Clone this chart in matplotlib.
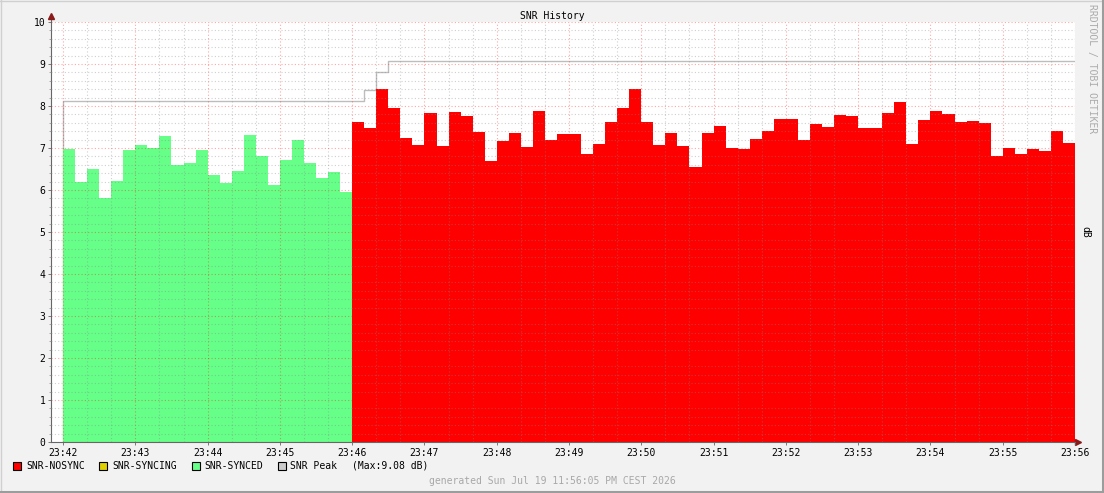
import matplotlib
matplotlib.use('Agg')
import matplotlib.pyplot as plt
import matplotlib.dates as mdates
from matplotlib.patches import Rectangle
from matplotlib.lines import Line2D
from matplotlib.ticker import MultipleLocator
from datetime import datetime, timedelta

plt.rcParams['font.family'] = 'DejaVu Sans Mono'
plt.rcParams['font.size'] = 7

W, H = 1104, 493

# SNR samples, one every 10 s
step = timedelta(seconds=10)
synced_start = datetime(2026, 7, 19, 23, 42, 0)
synced = [6.98, 6.19, 6.50, 5.81, 6.21, 6.95, 7.07, 6.99, 7.29, 6.60, 6.64, 6.95,
          6.36, 6.17, 6.45, 7.31, 6.81, 6.12, 6.71, 7.19, 6.64, 6.28, 6.43, 5.95]
nosync_start = datetime(2026, 7, 19, 23, 46, 0)
nosync = [7.62, 7.48, 8.40, 7.95, 7.24, 7.07, 7.83, 7.05, 7.86, 7.76, 7.38, 6.69,
          7.17, 7.36, 7.02, 7.88, 7.19, 7.33, 7.33, 6.86, 7.10, 7.62, 7.95, 8.40,
          7.62, 7.07, 7.36, 7.05, 6.55, 7.36, 7.52, 7.00, 6.98, 7.21, 7.40, 7.69,
          7.69, 7.19, 7.57, 7.50, 7.79, 7.76, 7.48, 7.48, 7.83, 8.10, 7.10, 7.67,
          7.88, 7.81, 7.62, 7.64, 7.60, 6.81, 7.00, 6.86, 6.98, 6.93, 7.40, 7.12]

# peak: value changes
peak_times = [datetime(2026, 7, 19, 23, 42, 0), datetime(2026, 7, 19, 23, 46, 10),
              datetime(2026, 7, 19, 23, 46, 20), datetime(2026, 7, 19, 23, 46, 30)]
peak_vals = [8.13, 8.38, 8.80, 9.07]
peak_max = 9.08

view_start = datetime(2026, 7, 19, 23, 41, 50)
view_end = datetime(2026, 7, 19, 23, 56, 0)

title = 'SNR History'
ylabel = 'dB'
watermark = 'RRDTOOL / TOBI OETIKER'
footer = 'generated Sun Jul 19 11:56:05 PM CEST 2026'

c_nosync = '#ff0000'
c_syncing = '#e0d000'
c_synced = '#66ff88'
c_peak = '#bdbdbd'


def edges(start, n):
    return mdates.date2num([start + i * step for i in range(n + 1)])


def px(x, y):
    return x / W, 1 - y / H


fig = plt.figure(figsize=(W / 100, H / 100), dpi=100, facecolor='#f2f2f2')
ax = fig.add_axes([51 / W, (H - 442) / H, 1024 / W, 420 / H])
ax.set_facecolor('white')

ax.stairs(synced, edges(synced_start, len(synced)), fill=True, color=c_synced, lw=0)
ax.stairs(nosync, edges(nosync_start, len(nosync)), fill=True, color=c_nosync, lw=0)

pt = mdates.date2num([peak_times[0]] + peak_times + [view_end])
pv = [0] + peak_vals + [peak_vals[-1]]
ax.step(pt, pv, where='post', color=c_peak, lw=1, zorder=0.9)

ax.set_xlim(mdates.date2num(view_start), mdates.date2num(view_end))
ax.set_ylim(0, 10)
ax.xaxis.set_major_locator(mdates.MinuteLocator())
ax.xaxis.set_minor_locator(mdates.SecondLocator(bysecond=[0, 20, 40]))
ax.xaxis.set_major_formatter(mdates.DateFormatter('%H:%M'))
ax.yaxis.set_major_locator(MultipleLocator(1))
ax.yaxis.set_minor_locator(MultipleLocator(0.2))

ax.set_axisbelow(False)
ax.grid(which='major', color='#ff0000', alpha=0.35, ls=(0, (1, 2)), lw=0.8)
ax.grid(which='minor', color='#888888', alpha=0.4, ls=(0, (1, 2)), lw=0.8)

for s in ['top', 'right']:
    ax.spines[s].set_visible(False)
for s in ['left', 'bottom']:
    ax.spines[s].set_color('#666666')
    ax.spines[s].set_linewidth(0.8)
ax.tick_params(which='major', length=2, width=0.6, color='#666666', pad=2, labelsize=7)
ax.tick_params(which='minor', length=1.5, width=0.5, color='#888888')
ax.tick_params(axis='x', which='minor', length=0)

# axis arrows
ax.plot([0, 0], [1, 1 + 6 / 420], color='#666666', lw=0.8, transform=ax.transAxes, clip_on=False)
ax.plot([0], [1 + 6 / 420], marker='^', ms=4, color='#8b1a1a', transform=ax.transAxes, clip_on=False)
ax.plot([1, 1 + 3 / 1024], [0, 0], color='#666666', lw=0.8, transform=ax.transAxes, clip_on=False)
ax.plot([1 + 3 / 1024], [0], marker='>', ms=4, color='#8b1a1a', transform=ax.transAxes, clip_on=False)

fig.text(*px(552, 16), title, ha='center', va='center', fontsize=7)
fig.text(*px(1092, 4), watermark, ha='center', va='top', rotation=270, color='#aaaaaa', fontsize=7)
fig.text(*px(1085, 232), ylabel, ha='center', va='center', rotation=270, fontsize=7)
fig.text(*px(552, 481), footer, ha='center', va='center', color='#a8a8a8', fontsize=7)

# legend
legend = [('SNR-NOSYNC', c_nosync, 13, 26), ('SNR-SYNCING', c_syncing, 99, 112),
          ('SNR-SYNCED', c_synced, 192, 204), ('SNR Peak', '#cccccc', 278, 290)]
for label, col, bx, tx in legend:
    fig.patches.append(Rectangle(px(bx, 470), 8 / W, 8 / H, transform=fig.transFigure,
                                 facecolor=col, edgecolor='black', lw=0.8))
    fig.text(*px(tx, 466), label, va='center', fontsize=7)
fig.text(*px(352, 466), '(Max:%.2f dB)' % peak_max, va='center', fontsize=7)

# frame
fig.lines.append(Line2D([0, 1], [1 - 0.5 / H] * 2, transform=fig.transFigure, color='#d0d0d0', lw=1))
fig.lines.append(Line2D([0.5 / W] * 2, [0, 1], transform=fig.transFigure, color='#d0d0d0', lw=1))
fig.lines.append(Line2D([0, 1], [1.5 / H] * 2, transform=fig.transFigure, color='#9c9c9c', lw=2.2))
fig.lines.append(Line2D([1 - 1.5 / W] * 2, [0, 1], transform=fig.transFigure, color='#9c9c9c', lw=2.2))

fig.savefig('out.png', dpi=100, facecolor=fig.get_facecolor())
